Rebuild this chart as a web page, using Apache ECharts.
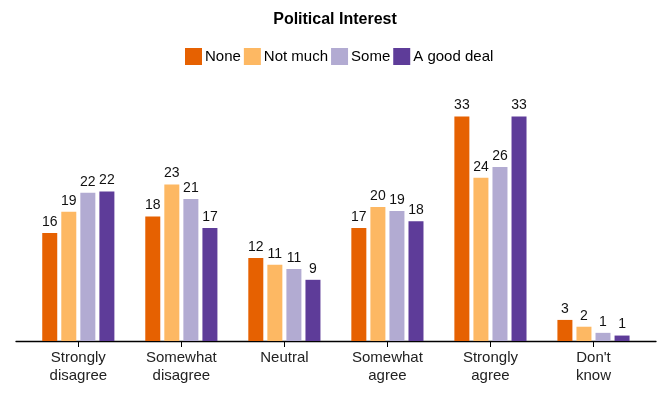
<!DOCTYPE html>
<html><head><meta charset="utf-8">
<script src="https://cdn.jsdelivr.net/npm/echarts@6/dist/echarts.min.js"></script>
<style>html,body{margin:0;padding:0;background:#fff}#c{width:670px;height:399px}</style>
</head><body><div id="c"></div>
<script>
const categories = ["Strongly\ndisagree", "Somewhat\ndisagree", "Neutral", "Somewhat\nagree", "Strongly\nagree", "Don't\nknow"];
const seriesNames = ["None", "Not much", "Some", "A good deal"];
const none = [15.9, 18.3, 12.2, 16.6, 33.0, 3.1];
const notMuch = [19.0, 23.0, 11.2, 19.7, 24.0, 2.1];
const some = [21.8, 20.9, 10.6, 19.1, 25.6, 1.2];
const goodDeal = [22.0, 16.6, 9.0, 17.6, 33.0, 0.8];
const colors = ["#e66101", "#fdb863", "#b2abd2", "#5e3c99"];
const values = [none, notMuch, some, goodDeal];

const chart = echarts.init(document.getElementById('c'), null, {renderer: 'canvas'});
const font = 'Liberation Sans, Arial, sans-serif';
chart.setOption({
  animation: false,
  textStyle: {fontFamily: font},
  title: {text: 'Political Interest', left: 'center', top: 7,
    textStyle: {fontSize: 16, fontWeight: 'bold', color: '#000', fontFamily: font}},
  legend: {data: seriesNames, left: 180, top: 43, itemWidth: 17, itemHeight: 17, itemGap: 3,
    icon: 'rect', textStyle: {fontSize: 15, color: '#000', fontFamily: font, padding: [0, 0, 0, -2]}},
  grid: [
    {left: 26.8, right: 670 - 645, top: 103, height: 238, containLabel: false},
    {left: 16, right: 670 - 656, top: 103, height: 238, containLabel: false}
  ],
  xAxis: [
    {type: 'category', data: categories, gridIndex: 0,
      axisLine: {show: false},
      axisTick: {show: true, alignWithLabel: true, length: 6, lineStyle: {color: '#000'}},
      axisLabel: {fontSize: 15, color: '#222', lineHeight: 18, margin: 8, fontFamily: font, interval: 0}},
    {type: 'value', gridIndex: 1, min: 0, max: 1,
      axisLine: {show: true, onZero: false, lineStyle: {color: '#000', width: 1.3}},
      axisTick: {show: false}, axisLabel: {show: false}, splitLine: {show: false}}
  ],
  yAxis: [
    {type: 'value', gridIndex: 0, min: 0, max: 35, show: false, splitLine: {show: false}},
    {type: 'value', gridIndex: 1, min: 0, max: 1, show: false, splitLine: {show: false}}
  ],
  series: seriesNames.map((n, i) => ({
    name: n, type: 'bar', xAxisIndex: 0, yAxisIndex: 0,
    data: values[i], barWidth: 15, barGap: '27%',
    itemStyle: {color: colors[i]},
    label: {show: true, position: 'top', distance: 4, fontSize: 14, color: '#111', fontFamily: font,
      formatter: p => Math.round(p.value)}
  }))
});
</script></body></html>
